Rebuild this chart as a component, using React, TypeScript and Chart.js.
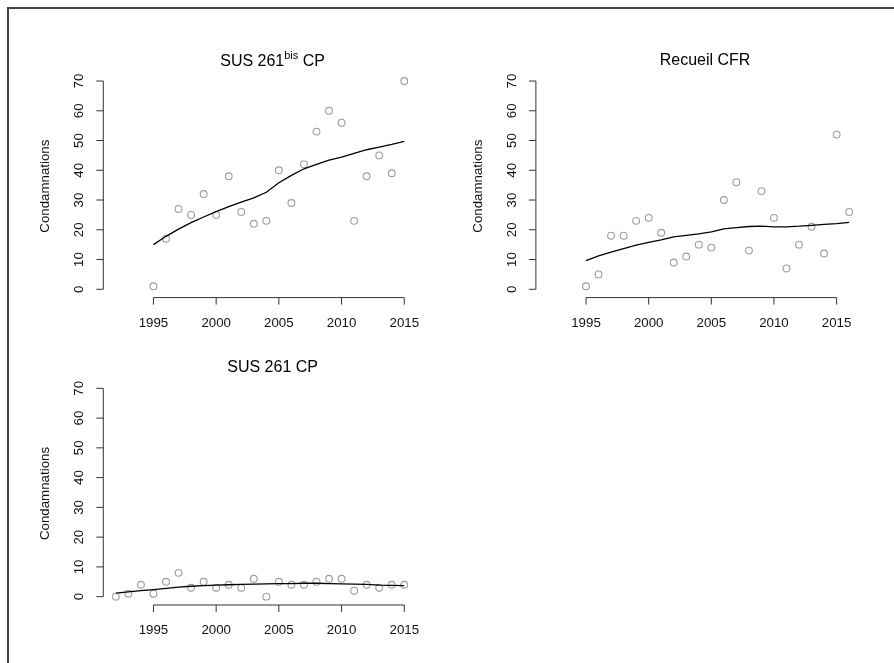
import React, { useEffect, useRef } from "react";
import { Chart, registerables } from "chart.js";

Chart.register(...registerables);

// ---------- data ----------
const bisYears = [1995, 1996, 1997, 1998, 1999, 2000, 2001, 2002, 2003, 2004, 2005, 2006, 2007, 2008, 2009, 2010, 2011, 2012, 2013, 2014, 2015];
const bisCounts = [1, 17, 27, 25, 32, 25, 38, 26, 22, 23, 40, 29, 42, 53, 60, 56, 23, 38, 45, 39, 70];
const bisTrend = [15, 17.8, 20.2, 22.4, 24.3, 26.1, 27.8, 29.3, 30.7, 32.6, 35.8, 38.3, 40.5, 42.0, 43.4, 44.4, 45.7, 46.9, 47.8, 48.7, 49.7];

const cfrYears = [1995, 1996, 1997, 1998, 1999, 2000, 2001, 2002, 2003, 2004, 2005, 2006, 2007, 2008, 2009, 2010, 2011, 2012, 2013, 2014, 2015, 2016];
const cfrCounts = [1, 5, 18, 18, 23, 24, 19, 9, 11, 15, 14, 30, 36, 13, 33, 24, 7, 15, 21, 12, 52, 26];
const cfrTrend = [9.6, 11.2, 12.5, 13.7, 14.8, 15.8, 16.6, 17.6, 18.1, 18.6, 19.3, 20.3, 20.7, 21.1, 21.2, 21.0, 21.0, 21.2, 21.5, 21.8, 22.1, 22.5];

const susYears = [1992, 1993, 1994, 1995, 1996, 1997, 1998, 1999, 2000, 2001, 2002, 2003, 2004, 2005, 2006, 2007, 2008, 2009, 2010, 2011, 2012, 2013, 2014, 2015];
const susCounts = [0, 1, 4, 1, 5, 8, 3, 5, 3, 4, 3, 6, 0, 5, 4, 4, 5, 6, 6, 2, 4, 3, 4, 4];
const susTrend = [1.2, 1.6, 2.0, 2.4, 2.8, 3.2, 3.5, 3.7, 3.9, 4.0, 4.1, 4.2, 4.3, 4.4, 4.4, 4.5, 4.5, 4.4, 4.3, 4.2, 4.1, 3.9, 3.8, 3.7];

const yTicks = [0, 10, 20, 30, 40, 50, 60, 70];
const xTicks = [1995, 2000, 2005, 2010, 2015];
const yLabel = "Condamnations";

// ---------- panels ----------
type PanelCfg = {
  key: string;
  title: string[]; // [main, superscript, rest]
  years: number[];
  counts: number[];
  trend: number[];
  left: number;
  top: number;
  width: number;
  height: number;
  padding: { left: number; right: number; top: number; bottom: number };
  titleGap: number;
};

const panels: PanelCfg[] = [
  {
    key: "bis",
    title: ["SUS 261", "bis", " CP"],
    years: bisYears,
    counts: bisCounts,
    trend: bisTrend,
    left: 0,
    top: 0,
    width: 447,
    height: 331,
    padding: { left: 103.3, right: 4.4, top: 72.7, bottom: 33.4 },
    titleGap: 11,
  },
  {
    key: "cfr",
    title: ["Recueil CFR", "", ""],
    years: cfrYears,
    counts: cfrCounts,
    trend: cfrTrend,
    left: 447,
    top: 0,
    width: 447,
    height: 331,
    padding: { left: 88.9, right: 19.8, top: 72.7, bottom: 33.4 },
    titleGap: 12,
  },
  {
    key: "sus",
    title: ["SUS 261 CP", "", ""],
    years: susYears,
    counts: susCounts,
    trend: susTrend,
    left: 0,
    top: 331,
    width: 447,
    height: 332,
    padding: { left: 103.3, right: 4.4, top: 49, bottom: 58 },
    titleGap: 12.7,
  },
];

const FONT = '"Liberation Sans", Arial, Helvetica, sans-serif';
const AXIS_COLOR = "#333333";
const TEXT_COLOR = "#111111";

function makeAxesPlugin(cfg: PanelCfg) {
  return {
    id: "rAxes_" + cfg.key,
    afterDraw(chart: any) {
      const ctx: CanvasRenderingContext2D = chart.ctx;
      const area = chart.chartArea;
      const xs = chart.scales.x;
      const ys = chart.scales.y;
      const tick = 7;
      ctx.save();
      ctx.strokeStyle = AXIS_COLOR;
      ctx.lineWidth = 1;
      ctx.fillStyle = TEXT_COLOR;

      // y axis
      const yTop = ys.getPixelForValue(yTicks[yTicks.length - 1]);
      const yBot = ys.getPixelForValue(yTicks[0]);
      ctx.beginPath();
      ctx.moveTo(area.left, yTop);
      ctx.lineTo(area.left, yBot);
      yTicks.forEach((v) => {
        const py = ys.getPixelForValue(v);
        ctx.moveTo(area.left, py);
        ctx.lineTo(area.left - tick, py);
      });
      ctx.stroke();
      ctx.font = "13.3px " + FONT;
      ctx.textAlign = "center";
      ctx.textBaseline = "middle";
      yTicks.forEach((v) => {
        const py = ys.getPixelForValue(v);
        ctx.save();
        ctx.translate(area.left - 24, py);
        ctx.rotate(-Math.PI / 2);
        ctx.fillText(String(v), 0, 0);
        ctx.restore();
      });

      // y label
      ctx.save();
      ctx.translate(area.left - 58, (area.top + area.bottom) / 2 + 1);
      ctx.rotate(-Math.PI / 2);
      ctx.fillText(yLabel, 0, 0);
      ctx.restore();

      // x axis
      const xL = xs.getPixelForValue(xTicks[0]);
      const xR = xs.getPixelForValue(xTicks[xTicks.length - 1]);
      ctx.beginPath();
      ctx.moveTo(xL, area.bottom);
      ctx.lineTo(xR, area.bottom);
      xTicks.forEach((v) => {
        const px = xs.getPixelForValue(v);
        ctx.moveTo(px, area.bottom);
        ctx.lineTo(px, area.bottom + tick);
      });
      ctx.stroke();
      xTicks.forEach((v) => {
        const px = xs.getPixelForValue(v);
        ctx.fillText(String(v), px, area.bottom + 25.5);
      });

      // title (with optional superscript)
      const [main, sup, rest] = cfg.title;
      const cx = (area.left + area.right) / 2;
      const ty = area.top - cfg.titleGap;
      const mainFont = "16px " + FONT;
      const supFont = "11px " + FONT;
      ctx.font = mainFont;
      const wMain = ctx.measureText(main).width;
      const wRest = ctx.measureText(rest).width;
      ctx.font = supFont;
      const wSup = sup ? ctx.measureText(sup).width : 0;
      const total = wMain + wSup + wRest;
      let x0 = cx - total / 2;
      ctx.textAlign = "left";
      ctx.fillStyle = "#000000";
      ctx.font = mainFont;
      ctx.fillText(main, x0, ty);
      x0 += wMain;
      if (sup) {
        ctx.font = supFont;
        ctx.fillText(sup, x0, ty - 6);
        x0 += wSup;
      }
      ctx.font = mainFont;
      ctx.fillText(rest, x0, ty);

      ctx.restore();
    },
  };
}

function Panel({ cfg }: { cfg: PanelCfg }) {
  const ref = useRef<HTMLCanvasElement | null>(null);
  useEffect(() => {
    if (!ref.current) return;
    const points = cfg.years.map((y, i) => ({ x: y, y: cfg.counts[i] }));
    const line = cfg.years.map((y, i) => ({ x: y, y: cfg.trend[i] }));
    const chart = new Chart(ref.current, {
      type: "scatter",
      data: {
        datasets: [
          {
            label: "trend",
            data: line,
            showLine: true,
            borderColor: "#000000",
            borderWidth: 1.3,
            pointRadius: 0,
            fill: false,
            tension: 0,
          } as any,
          {
            label: "counts",
            data: points,
            showLine: false,
            pointStyle: "circle",
            pointRadius: 3.4,
            pointBorderWidth: 1.1,
            pointBorderColor: "#9c9c9c",
            pointBackgroundColor: "rgba(0,0,0,0)",
          } as any,
        ],
      },
      options: {
        responsive: false,
        maintainAspectRatio: false,
        animation: false,
        devicePixelRatio: 1,
        layout: { padding: cfg.padding },
        scales: {
          x: { type: "linear", min: 1991, max: 2018, display: false },
          y: { type: "linear", min: -2.8, max: 72.8, display: false },
        },
        plugins: {
          legend: { display: false },
          tooltip: { enabled: false },
          title: { display: false },
        },
        events: [],
      },
      plugins: [makeAxesPlugin(cfg)],
    });
    return () => chart.destroy();
  }, [cfg]);
  return (
    <canvas
      ref={ref}
      width={cfg.width}
      height={cfg.height}
      style={{
        position: "absolute",
        left: cfg.left,
        top: cfg.top,
        width: cfg.width,
        height: cfg.height,
      }}
    />
  );
}

export default function App() {
  return (
    <div
      style={{
        position: "absolute",
        left: 0,
        top: 0,
        width: 894,
        height: 663,
        background: "#ffffff",
        overflow: "hidden",
      }}
    >
      <div
        style={{
          position: "absolute",
          left: 7,
          top: 7,
          width: 900,
          height: 700,
          borderTop: "2px solid #444444",
          borderLeft: "2px solid #444444",
        }}
      />
      {panels.map((p) => (
        <Panel key={p.key} cfg={p} />
      ))}
    </div>
  );
}
